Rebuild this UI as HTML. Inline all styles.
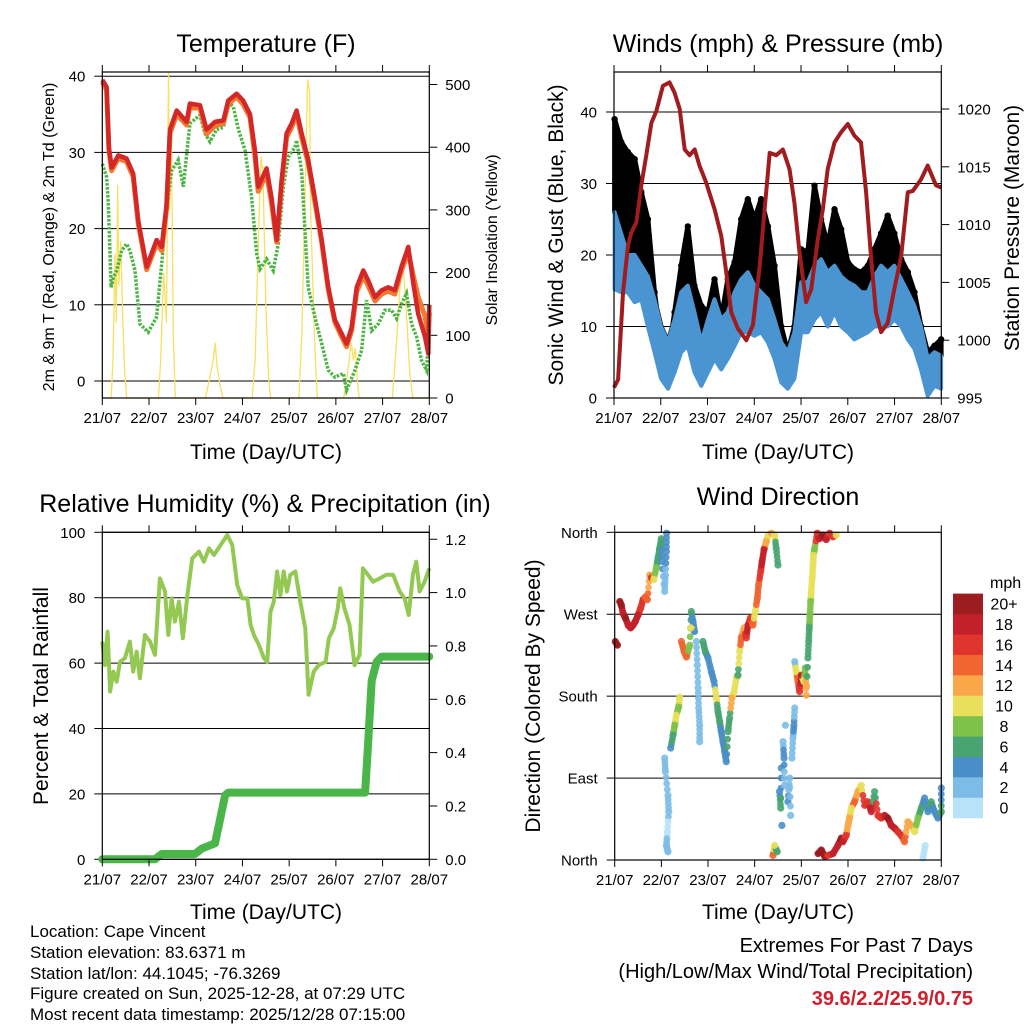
<!DOCTYPE html>
<html><head><meta charset="utf-8"><style>
html,body{margin:0;padding:0;background:#fff}
svg{display:block;font-family:"Liberation Sans",Arial,sans-serif}
</style></head><body>
<svg id="root" width="1024" height="1024" viewBox="0 0 1024 1024" xmlns="http://www.w3.org/2000/svg">
<rect x="0" y="0" width="1024" height="1024" fill="#fff"/>
<g id="p1"></g>
<g id="p2"></g>
<g id="p3"></g>
<g id="p4"></g>
<g font-size="25" text-anchor="middle" fill="#000">
<text x="266" y="52">Temperature (F)</text>
<text x="778" y="52">Winds (mph) &amp; Pressure (mb)</text>
<text x="265" y="512">Relative Humidity (%) &amp; Precipitation (in)</text>
<text x="778" y="505">Wind Direction</text>
</g>
<g font-size="21" text-anchor="middle" fill="#000">
<text x="266" y="459">Time (Day/UTC)</text>
<text x="778" y="459">Time (Day/UTC)</text>
<text x="266" y="919">Time (Day/UTC)</text>
<text x="778" y="919">Time (Day/UTC)</text>
<text transform="translate(563,235) rotate(-90)">Sonic Wind &amp; Gust (Blue, Black)</text>
<text transform="translate(1019,228) rotate(-90)">Station Pressure (Maroon)</text>
<text transform="translate(48,696) rotate(-90)">Percent &amp; Total Rainfall</text>
<text transform="translate(540,696) rotate(-90)">Direction (Colored By Speed)</text>
</g>
<g font-size="16" text-anchor="middle" fill="#000">
<text transform="translate(54,237) rotate(-90)">2m &amp; 9m T (Red, Orange) &amp; 2m Td (Green)</text>
<text transform="translate(497,240) rotate(-90)">Solar Insolation (Yellow)</text>
</g>
<g font-size="17" fill="#000">
<text x="30" y="937">Location: Cape Vincent</text>
<text x="30" y="958">Station elevation: 83.6371 m</text>
<text x="30" y="979">Station lat/lon: 44.1045; -76.3269</text>
<text x="30" y="999">Figure created on Sun, 2025-12-28, at 07:29 UTC</text>
<text x="30" y="1020">Most recent data timestamp: 2025/12/28 07:15:00</text>
</g>
<g font-size="20" text-anchor="end">
<text x="973" y="952" fill="#000">Extremes For Past 7 Days</text>
<text x="973" y="978" fill="#000">(High/Low/Max Wind/Total Precipitation)</text>
<text x="973" y="1005" fill="#d0202e" font-weight="bold">39.6/2.2/25.9/0.75</text>
</g>
<g id="cbar"></g>
<text x="990" y="588" font-size="16">mph</text>
</svg>
<script>
// ---------- DATA ----------
const dayLabels = ["21/07","22/07","23/07","24/07","25/07","26/07","27/07","28/07"];
const tempTicks = [0,10,20,30,40];
const solarTicks = [0,100,200,300,400,500];
const windTicks = [0,10,20,30,40];
const presTicks = [995,1000,1005,1010,1015,1020];
const rhTicks = [0,20,40,60,80,100];
const rainTicks = ["0.0","0.2","0.4","0.6","0.8","1.0","1.2"];
const dirTicks = [0,90,180,270,360];
const dirLabels = ["North","East","South","West","North"];
const speedBins = ["0","2","4","6","8","10","12","14","16","18","20+"];
const speedColors = ["#b8e2f8","#7cbce6","#4a8ec8","#48a470","#7dc24a","#e8e05a","#f8a848","#f06530","#e0352c","#c2202a","#9c1c1f"];

const tHours = [0,2.2,3.4,4.8,8.2,12.5,15.9,18.5,22.8,27.9,30.5,33,34.8,38.2,43.3,45,50.2,53.6,57.9,62.2,64.7,69,72.4,75.9,78.4,80.1,84.4,87,89.6,92.1,94.7,97.3,99.8,102.4,105.8,109.2,112.7,116.1,119.5,123,125.5,128.1,130.7,134.1,136.6,140.1,143.5,146.9,150.3,153.7,157.2,159.8,162.3,165.8,167.5,168];
const tempRed = [39.5,38.6,30.7,28,29.6,29.2,27.2,21,15,18.5,17.6,23,33,35.5,34,36.4,36.2,33,34,34.2,36.8,37.7,36.8,35,30.3,25.5,27.9,24,18.5,26.3,32.5,33.8,35.5,32.5,29,24,18.5,12.3,8,6.2,4.9,7,12.3,14.5,13.2,11,11.9,12.3,11.9,15,17.6,12.8,8.8,5.8,3.6,10];
const tempOrange = [39.2,38.2,30.3,27.6,29.2,28.8,26.8,20.6,14.6,18,17.1,22.5,32.5,35,33.6,35.9,35.8,32.4,33.5,33.8,36.3,37.3,36.3,34.6,29.6,24.9,27.2,23.3,18.2,25.8,32,33.3,35,32,28.6,23.5,18.2,12,7.7,5.8,4.5,6.6,11.7,13.8,12.5,10.5,11.4,11.8,11.4,14.5,16.9,13.8,11,8.5,6,9];
const tdHours = [0,2.2,3.1,4.5,5.7,7.4,9.9,12.5,14.2,16.8,19.3,23.6,27.9,30.5,33,35.6,39,41.6,45,50.2,52.7,55.3,58.7,62.2,64.7,67.3,69.9,73.3,76.7,79.3,81,84.4,87.8,90.4,93,95.5,99,99.8,102.4,105.8,109.2,112.7,116.1,119.5,123.8,125.5,129.8,133.2,135.8,138.4,141.8,145.2,148.6,151.2,153.7,156.3,158.9,161.5,164,166.6,168];
const tempDew = [28.5,26.8,23.3,12.3,13.6,14.5,17.1,18,17.1,14.5,7.5,6.4,8.4,15.4,22.4,27.6,29,25.5,33.8,34.9,32.5,31.4,33,33.3,36.6,36,33,30.3,24.1,16.7,14.7,16,14.5,18,25.5,29.4,30.7,31.6,27.6,12.3,8.4,4.9,1.4,0.5,1,-1.2,1.4,4,10.6,6.6,7.5,9.3,9.3,8.2,10.1,11.5,7.5,5.8,2.7,1.4,7];
const solarHours = [0,4.5,5.5,6.5,7.2,7.9,8.5,9.5,10.5,11.5,12.5,28.8,30,31.5,33,34,34.5,35.5,36.5,37.5,53,55,57,58,59,60.5,62,77,78.5,80,81.5,82.5,84,85.5,86.5,101,102.5,104,105.5,106.5,107,108,109.5,110.5,124,126,128,129,130,131,132,149,151,153,154.5,156,158,159.5,168];
const solarVals = [0,0,60,230,120,340,180,250,130,40,0,0,60,200,120,520,300,420,100,0,0,30,60,88,50,20,0,0,60,230,385,360,150,30,0,0,100,300,508,490,300,200,60,0,0,40,88,60,80,30,0,0,80,180,210,150,40,0,0];

const wHours = [0.3,3.7,7.1,10.6,14,17.4,20.8,24.2,27.7,31.1,34.5,37.9,41.3,44.8,48.2,51.6,55,58.4,61.9,65.3,68.7,72.1,75.5,79,82.4,85.8,89.2,92.6,96.1,99.5,102.9,106.3,109.7,113.2,116.6,120,123.4,126.8,130.3,133.7,137.1,140.5,143.9,147.4,150.8,154.2,157.6,161,164.5,167.9];
const sonicHi = [26,23,20,20,18.5,17,13.8,10,7.8,11,14.8,15.7,12,7.8,11,13.8,11,12,14.8,16.6,17.6,15.7,14.8,13.8,11,7.8,6.4,9.2,16.2,16.2,18.5,19.4,17.6,18.5,17,16.2,15.7,14.8,14.8,17,18.5,17.6,18.5,16.6,14.8,12.9,10,5.5,6.4,5.9];
const sonicLo = [15.2,14.8,14.8,13.4,13.8,10,6.4,2.7,1.3,3.6,6.4,7.3,3.6,1.7,3.6,5.5,4,5.5,7.3,9.2,9.2,8.7,9.2,7.8,5.5,2.2,1.3,2.7,9.2,9.2,11,12,10,12,10,9.2,8.2,8.7,9.2,10,10,10,11,10,8.2,6.9,4,0.3,1.7,1.3];
const gustHi = [39,35.8,34.4,33.4,28.8,25,14.8,7.8,5.5,12,18.5,24,15.7,12.9,12,16.6,11,16.6,19,25,27.8,25,27.8,24,18.5,10,6.4,10,20.8,20.4,29.7,25,21.3,26.4,23.6,19,18,17.6,18.5,20.8,23,25.5,23,19.4,17.6,14.8,10,6.4,7.3,8.2];
const pHours = [0,2.1,4.6,7.2,8.9,11.5,14,16.6,19.2,21.7,25.1,28.5,31.1,33.7,36.3,38.8,41.4,43.9,47.4,51.7,55.1,57.6,60.2,63.6,67.9,71.3,74.8,77.3,79.9,83.3,86.7,90.1,92.6,95.2,98.6,101.2,104.6,107.2,109.7,113.2,116.6,120,123.4,126.8,129.4,132,134.5,137.1,140.5,143.9,147.4,150.8,153.3,157.6,161,165.3,168];
const pressure = [995.9,996.6,1004.1,1008.2,1009.3,1010.2,1013.4,1016,1018.8,1019.8,1022,1022.3,1021.4,1020,1016.5,1016,1016.5,1015.1,1013.6,1011.3,1009,1005.9,1002.4,1001,1000,1001.3,1006.4,1011.3,1016.2,1016,1016.5,1014.8,1011.9,1007.6,1003.3,1004.4,1008.7,1011.3,1014.8,1017.1,1018,1018.7,1017.7,1017.1,1012.8,1007,1002.4,1000.7,1001.5,1004.4,1007.3,1012.8,1012.9,1013.9,1015.1,1013.4,1013.2];

const rhHours = [0,1.4,2.7,4,5.7,7.4,9.1,11.6,14.2,15.9,17.6,19.3,21.9,24.5,27.1,29.6,32.2,33.9,35.6,37.3,39.4,41.4,43.7,46.2,49.7,52.2,54.8,57.4,60.8,64.2,66.8,69.3,71.9,74.5,76.2,77.9,80.5,83,84.7,86.4,88.1,89.8,91.5,93.2,94.9,96.6,99.2,101.7,104.3,106,108.6,111.2,114.7,116.4,118.9,121,122.2,124.4,127,129.6,132.2,133.9,136.5,139.1,142.5,145.9,149.4,152.8,155.3,157.4,159.6,161.3,163,165.6,168];
const rhVals = [66.6,59.4,69.6,51.3,57.4,54.3,60.4,61.5,66.6,57.4,63.5,55.4,68.6,66.6,62.5,85.9,81.9,68.6,79.8,72.7,78.8,67.6,80.8,92,94.1,91,95.1,93.1,96.1,99.2,96.1,83.9,79.8,79.8,71.7,68.6,65.5,61.5,60.4,75.7,78.8,88,80.8,88,81.9,87,88,78.8,70.6,50.3,57.4,59.4,60.4,67.6,70.6,76.8,82.9,76.8,71.7,59.4,62.5,89,87,84.9,85.9,87,87,81.9,79.8,74.7,87,91,81.9,84.9,89];
const rainHours = [0,27,30.5,47.6,51.1,57.9,60.5,63.1,64.8,135,136.6,138.4,140.9,143.5,168];
const rainVals = [0,0,0.02,0.02,0.04,0.06,0.15,0.24,0.25,0.25,0.44,0.67,0.74,0.76,0.76];

const dirHours = [0.3,1.4,2.6,3.4,4.3,5.5,6.9,8.2,9.4,10.6,12,13.4,14.6,15.8,16.8,18,18.9,20.1,21.4,22.3,23.1,24,24.3,25.7,26.1,26.6,26.7,25.7,26.1,27.4,27.8,27.1,26.6,27.4,28.8,30,30.9,31.7,32.9,33.4,34.3,35.7,36.9,38.6,39.4,40.3,41.1,39.1,42,42.5,42.9,43.2,43.7,43.7,45.4,46.6,48,49.7,51.1,52.3,53.1,54,54.8,55.7,56.6,57.4,58.3,59.1,60.3,61.4,62.6,63.4,64.3,65.1,66.5,67.7,68.6,69.9,71.1,72.3,73.4,74,75.1,75.8,76.8,78,78.9,80.6,82.3,83.1,84,81.4,82.3,83.6,84.8,85.4,85.7,86,86.6,87.1,87.4,87.8,89.1,90,90.5,91.2,91.7,92.2,92.6,92.6,93.4,94.3,95.1,96,97.4,98,98.6,99.4,99.8,100.1,100.4,100.8,101.1,101.6,102,102.3,102.8,104.2,105.4,107.1,108.8,110.6,112.3,114,104.6,106.3,108,109.7,112.3,114.8,116.6,117.4,119.1,120,120.8,121.7,123.4,125.1,126.8,128.6,130.3,132,133.7,135.4,137.1,138.8,140.5,142.3,144,145.7,147.4,149.1,150.8,152.5,154.3,156,157.7,159.4,161.1,162.8,164.5,166.3,168,168,158.6,159.7];
const dirDeg = [240,236,284,280,271,266,258,255,258,262,269,277,286,289,286,313,310,308,321,332,342,353,328,295,313,339,359,112,97,71,53,31,16,9,123,137,148,159,168,179,240,229,223,236,273,262,251,255,240,214,189,167,148,130,240,229,222,207,196,178,163,152,141,130,119,108,141,156,178,185,200,203,229,244,255,244,258,266,258,273,288,302,317,328,341,350,357,359,357,342,324,5,16,9,75,57,101,38,130,112,82,148,64,90,49,112,134,148,167,218,207,196,185,203,196,211,181,222,240,255,269,284,295,310,324,335,342,359,353,357,352,359,355,357,7,11,4,5,7,16,24,20,27,38,46,57,64,75,82,60,64,53,75,49,46,49,46,38,35,31,27,20,42,38,31,46,57,68,53,64,53,46,53,79,2,16];
const dirSpeed = [20,20,20,20,18,20,18,18,18,18,18,16,16,14,14,12,16,10,8,6,6,6,4,2,2,4,4,2,2,2,2,0,2,2,4,6,8,10,8,10,14,14,14,8,6,4,4,10,2,2,2,2,2,2,6,6,4,4,4,10,6,6,4,4,4,4,6,6,12,10,10,6,10,14,12,16,18,16,14,10,14,14,16,18,18,12,10,12,10,6,6,14,10,6,4,6,4,4,2,4,2,2,4,2,2,2,2,4,2,2,10,14,16,18,10,8,12,6,6,6,8,8,10,10,10,10,8,16,18,20,18,16,16,10,20,20,20,16,18,18,20,18,16,12,12,10,14,12,10,16,16,18,6,16,16,18,20,18,18,16,16,14,12,12,10,8,6,4,4,6,4,4,6,4,0,0];

// ---------- helpers ----------
const NS = "http://www.w3.org/2000/svg";
function mk(parent, tag, attrs, txt){
  const e = document.createElementNS(NS, tag);
  for (const k in attrs) e.setAttribute(k, attrs[k]);
  if (txt !== undefined) e.textContent = txt;
  parent.appendChild(e);
  return e;
}
function pts(xs, ys, fx, fy){ return xs.map((h,i)=>fx(h).toFixed(1)+","+fy(ys[i]).toFixed(1)).join(" "); }
function speedColor(s){ let i = Math.min(10, Math.max(0, Math.floor(s/2))); return speedColors[i]; }

function frame(g, x0, y0, x1, y1){
  dayLabels.forEach((lab,i)=>{
    const x = x0 + i*(x1-x0)/7;
    const t = mk(g,"line",{x1:x,y1:y1,x2:x,y2:y1+7,stroke:"#000","stroke-width":1});
    
    
    const t2 = mk(g,"line",{x1:x,y1:y0,x2:x,y2:y0-7,stroke:"#000","stroke-width":1});
    
    
    const l = mk(g,"text",{x:x,y:y1+25,"font-size":15,"text-anchor":"middle"},lab);
    
    
  });
}
function box(g, x0, y0, x1, y1){
  const r = mk(g,"rect",{x:x0,y:y0,width:x1-x0,height:y1-y0,fill:"none",stroke:"#000","stroke-width":1.2});
  
  
}
function yAxis(g, vals, labs, fy, x, side, grid, x0, x1){
  vals.forEach((v,i)=>{
    const y = fy(v);
    if (grid){
      const gl = mk(g,"line",{x1:x0,y1:y,x2:x1,y2:y,stroke:"#000","stroke-width":1});
      
      
    }
    const tk = mk(g,"line",{x1:x,y1:y,x2:x+(side<0?-8:8),y2:y,stroke:"#000","stroke-width":1});
    
    
    const l = mk(g,"text",{x:x+(side<0?-17:16),y:y+5.5,"font-size":15,"text-anchor":side<0?"end":"start"},labs[i]);
    
    
  });
}

// ---------- Panel 1: temperature ----------
(function(){
  const g = document.getElementById("p1");
  const X0=102.3,X1=429.3,Y0=72,Y1=398;
  const fx = h=>X0+h*(X1-X0)/168;
  const fy = v=>381-v*7.62;
  const fs = s=>398-s*0.627;
  yAxis(g,tempTicks,tempTicks.map(String),fy,X0,-1,true,X0,X1);
  yAxis(g,solarTicks,solarTicks.map(String),fs,X1,1,false);
  const sol = mk(g,"polyline",{points:pts(solarHours,solarVals,fx,v=>Math.max(Y0,fs(v))),fill:"none",stroke:"#f8e060","stroke-width":1.3});
  
  
  const dew = mk(g,"polyline",{points:pts(tdHours,tempDew,fx,fy),fill:"none",stroke:"#4cb444","stroke-width":3.5,"stroke-dasharray":"2.5 1.5"});
  
  
  const or = mk(g,"polyline",{points:pts(tHours,tempOrange,fx,fy),fill:"none",stroke:"#f07a30","stroke-width":5,"stroke-linejoin":"round"});
  
  
  const rd = mk(g,"polyline",{points:pts(tHours,tempRed,fx,fy),fill:"none",stroke:"#d42828","stroke-width":4.5,"stroke-linejoin":"round"});
  
  
  box(g,X0,Y0,X1,Y1);
  frame(g,X0,Y0,X1,Y1);
})();

// ---------- Panel 2: winds & pressure ----------
(function(){
  const g = document.getElementById("p2");
  const X0=614,X1=941.3,Y0=72,Y1=398;
  const fx = h=>X0+h*(X1-X0)/168;
  const fy = v=>398-v*7.15;
  const fp = p=>398-(p-995)*11.56;
  yAxis(g,windTicks,windTicks.map(String),fy,X0,-1,true,X0,X1);
  yAxis(g,presTicks,presTicks.map(String),fp,X1,1,false);
  const gustPoly = pts(wHours,gustHi,fx,fy)+" "+pts(wHours.slice().reverse(),sonicHi.slice().reverse(),fx,fy);
  const gb = mk(g,"polygon",{points:gustPoly,fill:"#000",stroke:"#000","stroke-width":5,"stroke-linejoin":"round"});
  
  
  wHours.forEach((h,i)=>{
    const c = mk(g,"circle",{cx:fx(h),cy:fy(gustHi[i]),r:3.2,fill:"#000"});
    
    
  });
  const sonicPoly = pts(wHours,sonicHi,fx,fy)+" "+pts(wHours.slice().reverse(),sonicLo.slice().reverse(),fx,fy);
  const sb = mk(g,"polygon",{points:sonicPoly,fill:"#4a94d2",stroke:"#4a94d2","stroke-width":4,"stroke-linejoin":"round"});
  
  
  const pl = mk(g,"polyline",{points:pts(pHours,pressure,fx,fp),fill:"none",stroke:"#a01c1e","stroke-width":4,"stroke-linejoin":"round"});
  
  
  box(g,X0,Y0,X1,Y1);
  frame(g,X0,Y0,X1,Y1);
})();

// ---------- Panel 3: RH & precipitation ----------
(function(){
  const g = document.getElementById("p3");
  const X0=102.3,X1=429.3,Y0=532.3,Y1=859.3;
  const fx = h=>X0+h*(X1-X0)/168;
  const fy = v=>Y1-v*3.27;
  const fr = p=>Y1-p*266.7;
  yAxis(g,rhTicks,rhTicks.map(String),fy,X0,-1,true,X0,X1);
  yAxis(g,rainTicks.map(Number),rainTicks,fr,X1,1,false);
  const rh = mk(g,"polyline",{points:pts(rhHours,rhVals,fx,fy),fill:"none",stroke:"#93c952","stroke-width":4,"stroke-linejoin":"round"});
  
  
  const rn = mk(g,"polyline",{points:pts(rainHours,rainVals,fx,fr),fill:"none",stroke:"#4ab548","stroke-width":8,"stroke-linejoin":"round","stroke-linecap":"round"});
  
  
  box(g,X0,Y0,X1,Y1);
  frame(g,X0,Y0,X1,Y1);
})();

// ---------- Panel 4: wind direction ----------
(function(){
  const g = document.getElementById("p4");
  const X0=614.7,X1=941.3,Y0=532.3,Y1=860;
  const fx = h=>X0+h*(X1-X0)/168;
  const fy = d=>Y1-d*(Y1-Y0)/360;
  yAxis(g,dirTicks,dirLabels,fy,X0,-1,false);
  dirTicks.slice(1,4).forEach(d=>{
    const gl = mk(g,"line",{x1:X0,y1:fy(d),x2:X1,y2:fy(d),stroke:"#000","stroke-width":1});
    
    
  });
  for (let i=0;i<dirHours.length;i++){
    const h=dirHours[i], d=dirDeg[i];
    if (i+1<dirHours.length){
      const h2=dirHours[i+1], d2=dirDeg[i+1];
      if (Math.abs(h2-h)<2.6 && Math.abs(d2-d)<45){
        for (let k=1;k<4;k++){
          const c = mk(g,"circle",{cx:fx(h+(h2-h)*k/4),cy:fy(d+(d2-d)*k/4),r:3.4,fill:speedColor(k<2?dirSpeed[i]:dirSpeed[i+1]),"fill-opacity":0.9});
          
          
        }
      }
    }
    const c = mk(g,"circle",{cx:fx(h),cy:fy(d),r:3.6,fill:speedColor(dirSpeed[i]),"fill-opacity":0.9});
    
    
  }
  box(g,X0,Y0,X1,Y1);
  frame(g,X0,Y0,X1,Y1);
  const cb = document.getElementById("cbar");
  speedBins.forEach((lab,i)=>{
    const y = 818 - (i+1)*20.4;
    const r = mk(cb,"rect",{x:953,y:y,width:30,height:20.6,fill:speedColors[i]});
    
    
    const t = mk(cb,"text",{x:1004,y:y+16,"font-size":16,"text-anchor":"middle"},lab);
    
    
  });
})();
</script>
</body></html>
